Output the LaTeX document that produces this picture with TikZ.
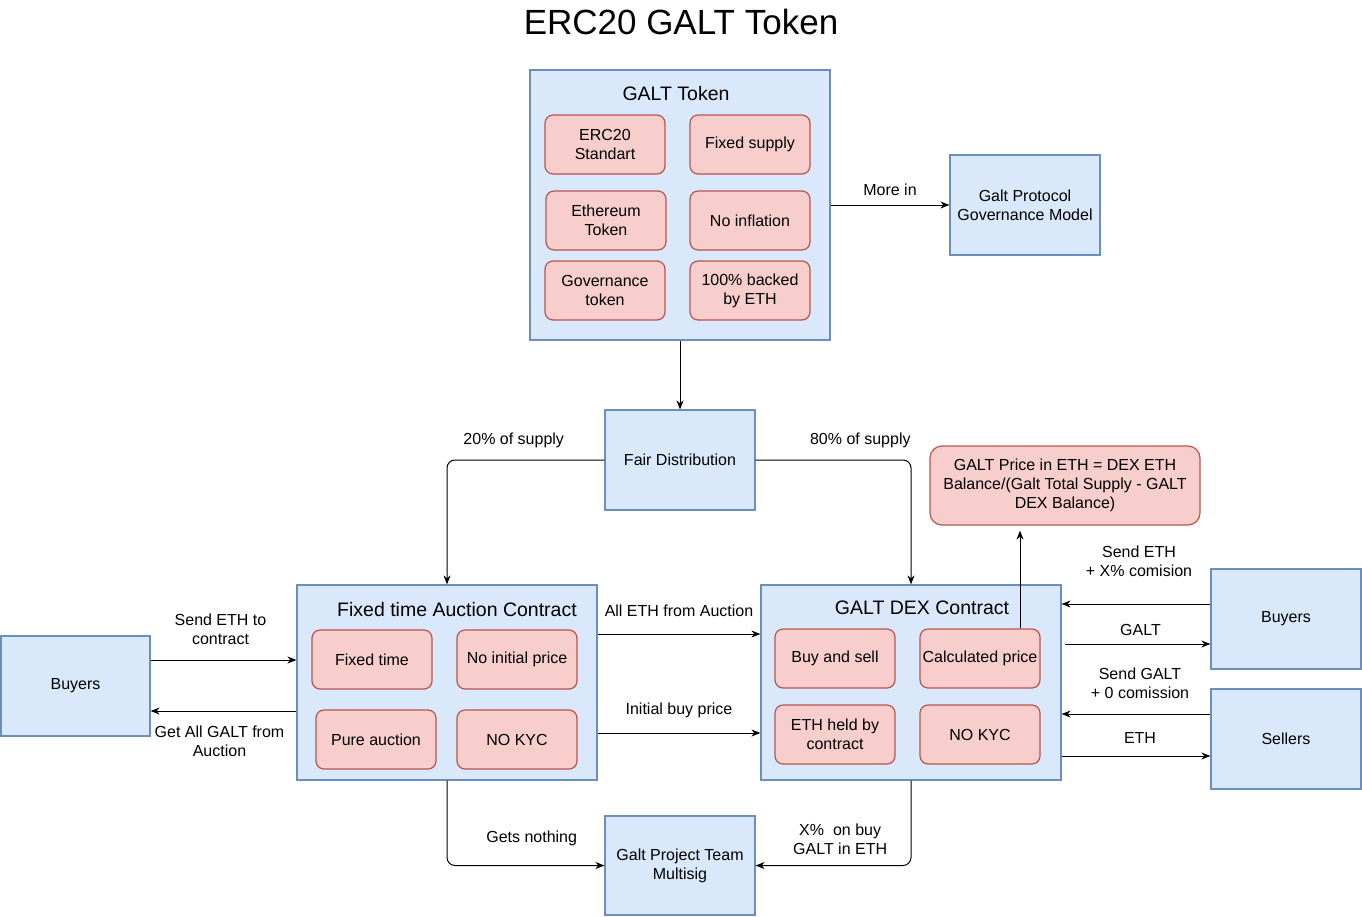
\documentclass[tikz,border=0pt]{standalone}
\usepackage{fontspec}
\setmainfont{Liberation Sans}
\usetikzlibrary{arrows.meta}
\usetikzlibrary{calc}

\definecolor{bluefill}{HTML}{DAE8FC}
\definecolor{blueline}{HTML}{6C8EBF}
\definecolor{redfill}{HTML}{F8CECC}
\definecolor{redline}{HTML}{B85450}

\begin{document}
\begin{tikzpicture}[x=1pt,y=-1pt,
        font=\fontsize{16}{19.2}\selectfont,
        bluebox/.style={draw=blueline, fill=bluefill, line width=1.2pt, inner sep=0pt, align=center, minimum width=150pt, minimum height=100pt},
        redbox/.style={draw=redline, fill=redfill, line width=1.2pt, rounded corners=8pt, inner sep=0pt, align=center, minimum width=120pt, minimum height=59pt},
        head/.style={font=\fontsize{19.5}{23}\selectfont},
        arr/.style={line width=1pt, -{Stealth[length=9pt,width=7pt]}, rounded corners=8pt},
        lbl/.style={inner sep=0pt, align=center}]
        \useasboundingbox (0,0) rectangle (1362,916);
        \node (title) at (681,22) {\fontsize{35}{42}\selectfont ERC20 GALT Token};
        %%%COMPONENTS%%%
        \node[bluebox, minimum width=300pt, minimum height=270pt] (galt) at (680,205) {};
        \node[head] (galthead) at (676,94) {GALT Token};
        \node[redbox] (erc) at (605,144.5) {ERC20\\Standart};
        \node[redbox] (fix) at (750,144.5) {Fixed supply};
        \node[redbox] (eth) at (606,220.5) {Ethereum\\Token};
        \node[redbox] (noinf) at (750,220.5) {No inflation};
        \node[redbox] (gov) at (605,290.5) {Governance\\token};
        \node[redbox] (back) at (750,290.5) {100\% backed\\by ETH};
        \node[bluebox] (gpm) at (1025,205) {Galt Protocol\\Governance Model};
        \node[bluebox] (fair) at (680,460) {Fair Distribution};
        %auction
        \node[bluebox, minimum width=300pt, minimum height=195pt] (auc) at (447,682.5) {};
        \node[head] (auchead) at (457,610) {Fixed time Auction Contract};
        \node[redbox] (ftime) at (372,659.5) {Fixed time};
        \node[redbox] (noinit) at (517,659.5) {No initial price};
        \node[redbox] (pure) at (376,739.5) {Pure auction};
        \node[redbox] (kycA) at (517,739.5) {NO KYC};
        %dex
        \node[bluebox, minimum width=300pt, minimum height=195pt] (dex) at (911,682.5) {};
        \node[head] (dexhead) at (922,608) {GALT DEX Contract};
        \node[redbox] (buysell) at (835,658.5) {Buy and sell};
        \node[redbox] (cprice) at (980,658.5) {Calculated price};
        \node[redbox] (held) at (835,734.5) {ETH held by\\contract};
        \node[redbox] (kycD) at (980,734.5) {NO KYC};
        \node[redbox, minimum width=270pt, minimum height=79pt, rounded corners=12pt] (price) at (1065,485.5) {GALT Price in ETH = DEX ETH\\Balance/(Galt Total Supply - GALT\\DEX Balance)};
        %actors
        \node[bluebox, minimum width=149pt] (buyL) at (75.5,686) {Buyers};
        \node[bluebox] (buyR) at (1286,619) {Buyers};
        \node[bluebox] (sell) at (1286,739) {Sellers};
        \node[bluebox, minimum height=99pt] (team) at (680,865.5) {Galt Project Team\\Multisig};
        %%%ARROWS%%%
        \draw[arr] (galt.south) -- (fair.north);
        \draw[arr] (galt.east) -- node[lbl, yshift=15pt]{More in} (gpm.west);
        \draw[arr] (fair.west) -| node[lbl, pos=0.288, yshift=20pt]{20\% of supply} (auc.north);
        \draw[arr] (fair.east) -| node[lbl, pos=0.337, yshift=20pt]{80\% of supply} (dex.north);
        \draw[arr] ($(cprice.north)+(40,0)$) -- ($(price.south)+(-45,5)$);
        %next
        \draw[arr] ($(buyL.east)+(0,-26)$) -- node[lbl, xshift=-3pt, yshift=30.5pt]{Send ETH to\\contract} ($(auc.west)+(0,-22.5)$);
        \draw[arr] ($(auc.west)+(0,28.5)$) -- node[lbl, xshift=-4pt, yshift=-30.5pt]{Get All GALT from\\Auction} ($(buyL.east)+(0,25)$);
        \draw[arr] ($(auc.east)+(0,-48.5)$) -- node[lbl, yshift=23pt]{All ETH from Auction} ($(dex.west)+(0,-48.5)$);
        \draw[arr] ($(auc.east)+(0,50.5)$) -- node[lbl, yshift=23pt]{Initial buy price} ($(dex.west)+(0,50.5)$);
        \draw[arr] ($(buyR.west)+(0,-15)$) -- node[lbl, xshift=3pt, yshift=42.5pt]{Send ETH\\+ X\% comision} ($(dex.east)+(0,-78.5)$);
        \draw[arr] ($(dex.east)+(3,-38.5)$) -- node[lbl, xshift=3pt, yshift=14pt]{GALT} ($(buyR.west)+(0,25)$);
        \draw[arr] ($(sell.west)+(0,-25)$) -- node[lbl, xshift=4pt, yshift=30.5pt]{Send GALT\\+ 0 comission} ($(dex.east)+(0,31.5)$);
        \draw[arr] ($(dex.east)+(0,73.5)$) -- node[lbl, xshift=4pt, yshift=18pt]{ETH} ($(sell.west)+(0,17)$);
        %team
        \draw[arr] (auc.south) |- node[lbl, pos=0.769, yshift=27pt]{Gets nothing} (team.west);
        \draw[arr] (dex.south) |- node[lbl, pos=0.728, yshift=26.5pt]{X\%~ on buy\\GALT in ETH} (team.east);
    \end{tikzpicture}
\end{document}
